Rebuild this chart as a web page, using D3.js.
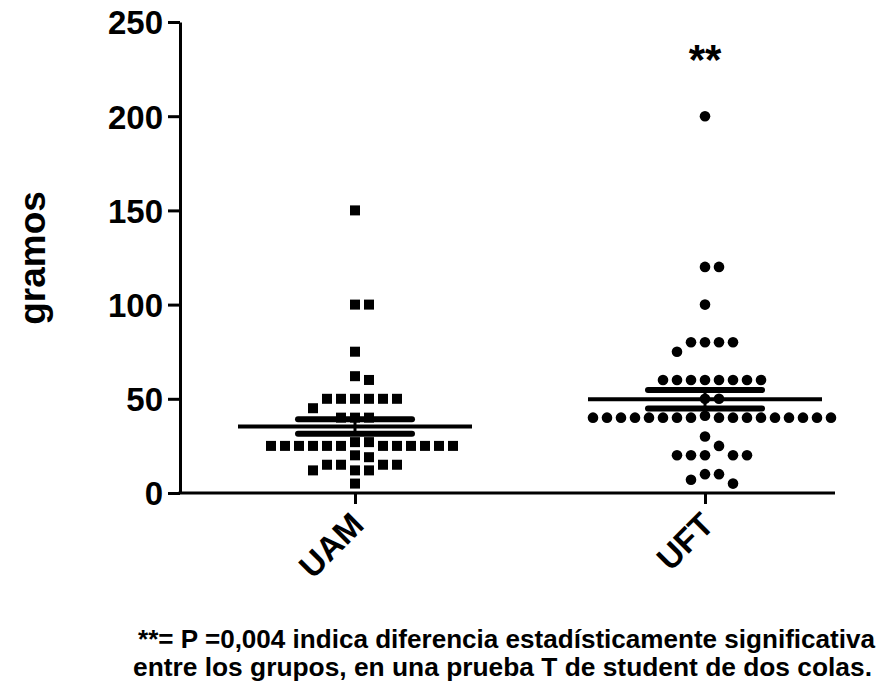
<!DOCTYPE html>
<html>
<head>
<meta charset="utf-8">
<script src="https://cdn.jsdelivr.net/npm/d3@7"></script>
<style>
  body { margin: 0; background: #fff; }
  svg { display: block; font-family: "Liberation Sans", Arial, sans-serif; font-weight: bold; }
</style>
</head>
<body>
<div id="chart"></div>
<script>
// datos (gramos por grupo)
const categories = ["UAM", "UFT"];
const uamValues = [150, 100, 100, 75, 62, 60,
  50, 50, 50, 50, 50, 50, 45, 40, 40, 40,
  27, 27, 25, 25, 25, 25, 25, 25, 25, 25, 25, 25, 25, 25,
  20, 19, 15, 15, 15, 15, 12, 12, 12, 5];
const uftValues = [200, 120, 120, 100, 80, 80, 80, 80, 75,
  60, 60, 60, 60, 60, 60, 60, 60, 50, 50,
  41, 40, 40, 40, 40, 40, 40, 40, 40, 40, 40, 40, 40, 40, 40, 40, 40, 40,
  30, 25, 20, 20, 20, 20, 20, 10, 10, 7, 5];
const groupMeans = [35.3, 49.8];
const groupSems = [3.8, 4.9];
const yTicks = [0, 50, 100, 150, 200, 250];
const marks = ["", "**"];
const footnote = [
  "**= P =0,004 indica diferencia estadísticamente significativa",
  "entre los grupos, en una prueba T de student de dos colas."
];

const width = 894, height = 683;
const svg = d3.select("#chart").append("svg")
  .attr("width", width)
  .attr("height", height);

const y = d3.scaleLinear().domain([0, 250]).range([493, 22]);
const x = d3.scalePoint().domain(categories).range([180, 880]).padding(0.5);

// reparte los puntos a los lados cuando se tapan (como en Prism)
function swarm(values, cx) {
  const step = 14, size = 10;
  const placed = [];
  values.slice().sort((a, b) => b - a).forEach(v => {
    const py = y(v);
    for (let k = 0; ; k++) {
      const slot = k === 0 ? 0 : (k % 2 ? (k + 1) / 2 : -k / 2);
      const hit = placed.some(p => p.slot === slot && Math.abs(p.py - py) < size);
      if (!hit) { placed.push({ v, py, slot }); break; }
    }
  });
  return placed.map(p => ({ value: p.v, x: cx + p.slot * step, y: p.py }));
}

// UAM: cuadrados
svg.append("g").selectAll("rect")
  .data(swarm(uamValues, x("UAM")))
  .enter().append("rect")
  .attr("x", d => d.x - 5)
  .attr("y", d => d.y - 5)
  .attr("width", 10)
  .attr("height", 10)
  .attr("fill", "#000");

// UFT: circulos
svg.append("g").selectAll("circle")
  .data(swarm(uftValues, x("UFT")))
  .enter().append("circle")
  .attr("cx", d => d.x)
  .attr("cy", d => d.y)
  .attr("r", 5.3)
  .attr("fill", "#000");

// media y error estandar
categories.forEach((c, i) => {
  const cx = x(c), m = groupMeans[i], s = groupSems[i];
  const g = svg.append("g").attr("stroke", "#000");
  g.append("line")
    .attr("x1", cx - 117).attr("x2", cx + 117)
    .attr("y1", y(m)).attr("y2", y(m))
    .attr("stroke-width", 4);
  g.append("line")
    .attr("x1", cx).attr("x2", cx)
    .attr("y1", y(m + s)).attr("y2", y(m - s))
    .attr("stroke-width", 3);
  [m + s, m - s].forEach(v => {
    g.append("line")
      .attr("x1", cx - 57).attr("x2", cx + 57)
      .attr("y1", y(v)).attr("y2", y(v))
      .attr("stroke-width", 6)
      .attr("stroke-linecap", "round");
  });
  if (marks[i]) {
    svg.append("text")
      .attr("x", cx)
      .attr("y", 74)
      .attr("text-anchor", "middle")
      .attr("font-size", 42)
      .text(marks[i]);
  }
});

// eje y
const yAxis = svg.append("g")
  .attr("transform", "translate(180,0)")
  .call(d3.axisLeft(y).tickValues(yTicks).tickSize(12).tickSizeOuter(0).tickPadding(5));
yAxis.selectAll("path, line").attr("stroke", "#000").attr("stroke-width", 3);
yAxis.selectAll("text")
  .attr("fill", "#000")
  .attr("font-size", 33)
  .attr("font-family", "Liberation Sans, Arial, sans-serif")
  .attr("font-weight", "bold")
  .attr("dy", "0.36em");

// eje x
svg.append("line")
  .attr("x1", 178.5).attr("x2", 835)
  .attr("y1", 493).attr("y2", 493)
  .attr("stroke", "#000").attr("stroke-width", 3);
const xAxis = svg.append("g")
  .attr("transform", "translate(0,493)")
  .call(d3.axisBottom(x).tickSize(11).tickSizeOuter(0).tickFormat(""));
xAxis.select(".domain").remove();
xAxis.selectAll("line").attr("stroke", "#000").attr("stroke-width", 3);

svg.append("g").selectAll("text")
  .data(categories)
  .enter().append("text")
  .attr("transform", d => `translate(${x(d) - 6},${510}) rotate(-45)`)
  .attr("text-anchor", "end")
  .attr("dy", "0.72em")
  .attr("font-size", 33)
  .text(d => d);

// titulo del eje y
svg.append("text")
  .attr("transform", "translate(45,258) rotate(-90)")
  .attr("text-anchor", "middle")
  .attr("font-size", 37)
  .text("gramos");

// nota al pie
svg.append("g").selectAll("text")
  .data(footnote)
  .enter().append("text")
  .attr("x", (d, i) => i === 0 ? 138 : 133)
  .attr("y", (d, i) => 648 + i * 28)
  .attr("font-size", 25)
  .attr("textLength", (d, i) => i === 0 ? 737 : 739)
  .attr("lengthAdjust", "spacingAndGlyphs")
  .text(d => d);
</script>
</body>
</html>
